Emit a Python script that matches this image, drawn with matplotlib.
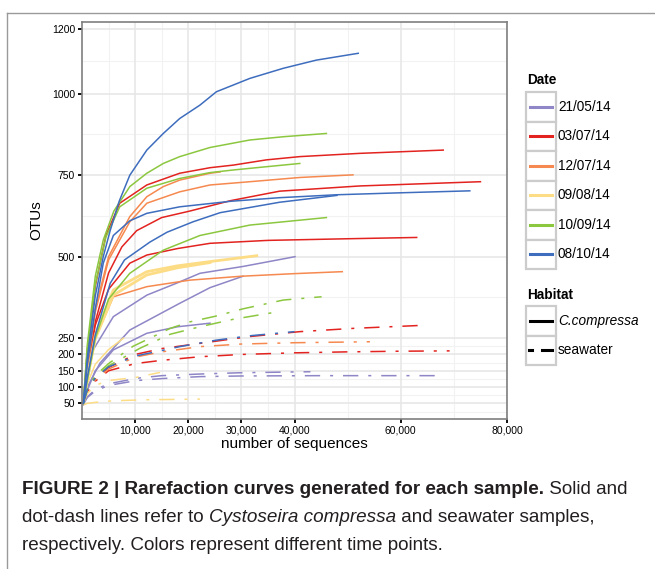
import matplotlib
matplotlib.use("Agg")
import matplotlib.pyplot as plt
from matplotlib.lines import Line2D
from matplotlib.patches import Rectangle

plt.rcParams["font.family"] = ["Liberation Sans", "DejaVu Sans"]

W, H = 655, 569

# legend entries
dates = ["21/05/14", "03/07/14", "12/07/14", "09/08/14", "10/09/14", "08/10/14"]
date_colors = ["#8E86C6", "#E2231F", "#F6894F", "#FDDC86", "#8CC740", "#3E6DBE"]
habitats = ["C.compressa", "seawater"]

# ---- C. compressa rarefaction curves (sequences, OTUs) ----
blue_a_x = [250, 1000, 2500, 4000, 5300, 7000, 9000, 12200, 15300, 18400, 22200, 25300, 31600, 37900, 44100, 52000]
blue_a_y = [50, 190, 380, 500, 580, 670, 750, 827, 878, 924, 965, 1006, 1047, 1078, 1103, 1124]
green_a_x = [250, 1000, 2500, 4000, 6000, 9000, 12200, 15300, 18400, 24100, 31600, 37900, 46000]
green_a_y = [50, 230, 440, 551, 640, 715, 756, 786, 807, 835, 858, 868, 878]
red_a_x = [250, 1000, 2500, 4500, 7100, 12200, 18400, 24100, 28500, 34700, 41000, 52300, 68000]
red_a_y = [50, 210, 410, 565, 664, 720, 756, 773, 781, 797, 807, 817, 827]
green_b_x = [250, 1000, 2500, 4500, 7100, 12200, 18400, 24100, 28500, 34700, 41000]
green_b_y = [50, 215, 415, 560, 653, 710, 740, 758, 766, 776, 786]
orange_a_x = [250, 1000, 2500, 5000, 9000, 12200, 15300, 18400, 24100, 26000]
orange_a_y = [50, 170, 340, 500, 623, 684, 715, 735, 756, 760]
orange_b_x = [250, 1000, 2500, 5000, 9000, 12200, 18400, 24100, 31600, 41000, 51000]
orange_b_y = [50, 160, 330, 490, 607, 664, 699, 720, 730, 743, 751]
red_b_x = [250, 1000, 2500, 5000, 7500, 10300, 15000, 20300, 28000, 37200, 52300, 75000]
red_b_y = [50, 150, 300, 450, 530, 580, 620, 640, 672, 701, 717, 730]
blue_b_x = [250, 1000, 2500, 4000, 5900, 9000, 12200, 18400, 28000, 37200, 48000, 60000, 73000]
blue_b_y = [50, 170, 340, 480, 565, 610, 633, 653, 670, 681, 690, 696, 702]
blue_c_x = [250, 1000, 2500, 5300, 8000, 12800, 16000, 20900, 26000, 37200, 48000]
blue_c_y = [50, 130, 260, 418, 490, 545, 575, 607, 635, 667, 688]
green_c_x = [250, 1000, 2500, 5000, 9000, 15300, 22200, 31600, 37900, 46000]
green_c_y = [50, 120, 250, 370, 449, 520, 565, 597, 607, 620]
red_c_x = [250, 1000, 2500, 5000, 9000, 12200, 18000, 24100, 35000, 50000, 63000]
red_c_y = [50, 150, 290, 400, 480, 505, 525, 541, 550, 555, 559]
yellow_a_x = [250, 1000, 2500, 5900, 12200, 18000, 24100, 32900]
yellow_a_y = [50, 130, 260, 398, 454, 472, 485, 503]
yellow_b_x = [250, 1000, 2500, 5900, 12200, 18000, 24100]
yellow_b_y = [50, 125, 248, 382, 444, 466, 482]
purple_a_x = [250, 1000, 2100, 5900, 12200, 18000, 22200, 30300, 40100]
purple_a_y = [48, 120, 214, 316, 382, 420, 449, 470, 500]
purple_b_x = [250, 1000, 3400, 9000, 18400, 24100, 30300]
purple_b_y = [48, 100, 174, 275, 357, 405, 440]
purple_c_x = [250, 1000, 2500, 5900, 12200, 18000, 24100]
purple_c_y = [45, 90, 150, 214, 265, 285, 296]
yellow_c_x = [250, 1000, 2500, 5000, 7800]
yellow_c_y = [48, 110, 170, 215, 250]
orange_c_x = [250, 1000, 2500, 5900, 12200, 20300, 30000, 40000, 49000]
orange_c_y = [48, 130, 250, 377, 408, 428, 440, 448, 454]

# ---- seawater rarefaction curves ----
sw_red_a_x = [250, 1000, 2500, 5000, 10000, 15000, 22200, 31600, 41000, 51000, 65000]
sw_red_a_y = [50, 90, 125, 160, 200, 218, 234, 255, 270, 280, 290]
sw_blue_x = [250, 1000, 2500, 5000, 10000, 15000, 18400, 25300, 32000, 40000]
sw_blue_y = [50, 92, 128, 162, 195, 212, 224, 244, 258, 270]
sw_orange_x = [250, 1000, 2500, 5000, 10000, 15000, 22200, 30000, 40000, 54200]
sw_orange_y = [50, 90, 122, 155, 192, 208, 224, 232, 236, 239]
sw_red_b_x = [250, 1000, 2500, 5000, 10000, 15000, 22200, 30000, 40000, 50000, 60000, 69200]
sw_red_b_y = [50, 85, 118, 150, 172, 182, 193, 200, 205, 208, 210, 211]
sw_green_a_x = [250, 1000, 2500, 5000, 9600, 12800, 16600, 20300, 25300, 30300, 37900, 45100]
sw_green_a_y = [50, 95, 135, 172, 225, 250, 280, 300, 318, 340, 367, 377]
sw_green_b_x = [250, 1000, 2500, 5000, 10900, 16600, 22200, 28500, 36900]
sw_green_b_y = [50, 92, 130, 165, 219, 262, 285, 308, 331]
sw_purple_a_x = [250, 1000, 2500, 5000, 10300, 15000, 22200, 30000, 43000]
sw_purple_a_y = [48, 70, 92, 110, 127, 135, 140, 144, 147]
sw_purple_b_x = [250, 1000, 2500, 5000, 10300, 15000, 22200, 30000, 45000, 67500]
sw_purple_b_y = [48, 68, 88, 105, 120, 126, 132, 134, 135, 135]
sw_yellow_a_x = [250, 1000, 2500, 5900, 12000, 22200]
sw_yellow_a_y = [45, 50, 53, 58, 61, 63]
sw_yellow_b_x = [250, 1000, 2500, 5000, 10300, 14700]
sw_yellow_b_y = [50, 80, 105, 120, 130, 145]

curves = [
    ("21/05/14", "C.compressa", purple_a_x, purple_a_y),
    ("21/05/14", "C.compressa", purple_b_x, purple_b_y),
    ("21/05/14", "C.compressa", purple_c_x, purple_c_y),
    ("21/05/14", "seawater", sw_purple_a_x, sw_purple_a_y),
    ("21/05/14", "seawater", sw_purple_b_x, sw_purple_b_y),
    ("03/07/14", "C.compressa", red_a_x, red_a_y),
    ("03/07/14", "C.compressa", red_b_x, red_b_y),
    ("03/07/14", "C.compressa", red_c_x, red_c_y),
    ("03/07/14", "seawater", sw_red_a_x, sw_red_a_y),
    ("03/07/14", "seawater", sw_red_b_x, sw_red_b_y),
    ("12/07/14", "C.compressa", orange_a_x, orange_a_y),
    ("12/07/14", "C.compressa", orange_b_x, orange_b_y),
    ("12/07/14", "C.compressa", orange_c_x, orange_c_y),
    ("12/07/14", "seawater", sw_orange_x, sw_orange_y),
    ("09/08/14", "C.compressa", yellow_a_x, yellow_a_y),
    ("09/08/14", "C.compressa", yellow_b_x, yellow_b_y),
    ("09/08/14", "C.compressa", yellow_c_x, yellow_c_y),
    ("09/08/14", "seawater", sw_yellow_a_x, sw_yellow_a_y),
    ("09/08/14", "seawater", sw_yellow_b_x, sw_yellow_b_y),
    ("10/09/14", "C.compressa", green_a_x, green_a_y),
    ("10/09/14", "C.compressa", green_b_x, green_b_y),
    ("10/09/14", "C.compressa", green_c_x, green_c_y),
    ("10/09/14", "seawater", sw_green_a_x, sw_green_a_y),
    ("10/09/14", "seawater", sw_green_b_x, sw_green_b_y),
    ("08/10/14", "C.compressa", blue_a_x, blue_a_y),
    ("08/10/14", "C.compressa", blue_b_x, blue_b_y),
    ("08/10/14", "C.compressa", blue_c_x, blue_c_y),
    ("08/10/14", "seawater", sw_blue_x, sw_blue_y),
]

x_ticks = [10000, 20000, 30000, 40000, 60000, 80000]
x_minor = [5000, 15000, 25000, 35000, 50000, 70000]
y_ticks = [50, 100, 150, 200, 250, 500, 750, 1000, 1200]
y_minor = [25, 75, 125, 175, 225, 375, 625, 875, 1100]

dotdash = (0, (10, 6.5, 2, 6.5))
styles = {"C.compressa": "-", "seawater": dotdash}


def fx(x):
    return x / W


def fy(y):
    return 1 - y / H


fig = plt.figure(figsize=(W / 100, H / 100), dpi=100)
ax = fig.add_axes([fx(82), fy(419), (507 - 82) / W, (419 - 22) / H])

# grid like theme_bw
for v in x_minor:
    ax.axvline(v, color="#f2f2f2", lw=0.8, zorder=0)
for v in y_minor:
    ax.axhline(v, color="#f2f2f2", lw=0.8, zorder=0)
for v in x_ticks:
    ax.axvline(v, color="#e6e6e6", lw=1.1, zorder=0)
for v in y_ticks:
    ax.axhline(v, color="#e6e6e6", lw=1.1, zorder=0)

for date, hab, xs, ys in curves:
    c = date_colors[dates.index(date)]
    # the 09/08/14 host curves overlap into a thick band
    lw = 2.0 if (date == "09/08/14" and hab == "C.compressa" and len(xs) > 5) else 1.1
    ax.plot(xs, ys, color=c, lw=lw, linestyle=styles[hab], zorder=2)

ax.set_xlim(0, 80000)
ax.set_ylim(2, 1220)
ax.set_xticks(x_ticks)
ax.set_xticklabels([f"{v:,}" for v in x_ticks])
ax.set_yticks(y_ticks)
ax.tick_params(direction="out", length=3, width=1.3, color="black", labelsize=7.5, pad=2)
for s in ax.spines.values():
    s.set_color("#7f7f7f")
    s.set_linewidth(1.2)
ax.set_xlabel("number of sequences", fontsize=11, labelpad=1)
ax.set_ylabel("OTUs", fontsize=11, labelpad=6)

# outer frame of the figure panel
fig.add_artist(Line2D([fx(7), fx(7)], [fy(13), 0], color="#9a9a9a", lw=1, transform=fig.transFigure))
fig.add_artist(Line2D([fx(7), 1], [fy(13), fy(13)], color="#9a9a9a", lw=1, transform=fig.transFigure))

# legends drawn in ggplot fashion
key_x0, key_x1 = 526, 556
leg_size = 9.8
fig.text(fx(527), fy(80), "Date", fontsize=leg_size, fontweight="bold", va="center")
cell = 29.5
top = 92
for i, (d, c) in enumerate(zip(dates, date_colors)):
    y0 = top + i * cell
    fig.add_artist(Rectangle((fx(key_x0), fy(y0 + cell)), (key_x1 - key_x0) / W, cell / H,
                             transform=fig.transFigure, facecolor="white",
                             edgecolor="#cccccc", lw=1.6))
    yc = y0 + cell / 2
    fig.add_artist(Line2D([fx(530), fx(552)], [fy(yc), fy(yc)], color=c, lw=2.2,
                          transform=fig.transFigure))
    fig.text(fx(558), fy(yc), d, fontsize=leg_size, va="center")

fig.text(fx(527), fy(295), "Habitat", fontsize=leg_size, fontweight="bold", va="center")
htop = 306
for i, h in enumerate(habitats):
    y0 = htop + i * cell
    fig.add_artist(Rectangle((fx(key_x0), fy(y0 + cell)), (key_x1 - key_x0) / W, cell / H,
                             transform=fig.transFigure, facecolor="white",
                             edgecolor="#cccccc", lw=1.6))
    yc = y0 + cell / 2
    if h == "seawater":
        fig.add_artist(Line2D([fx(529), fx(532)], [fy(yc), fy(yc)], color="black", lw=2.2,
                              transform=fig.transFigure))
        fig.add_artist(Line2D([fx(542), fx(552)], [fy(yc), fy(yc)], color="black", lw=2.2,
                              transform=fig.transFigure))
        fig.text(fx(558), fy(yc), h, fontsize=leg_size, va="center")
    else:
        fig.add_artist(Line2D([fx(530), fx(552)], [fy(yc), fy(yc)], color="black", lw=2.2,
                              transform=fig.transFigure))
        fig.text(fx(558), fy(yc), h, fontsize=leg_size, va="center", style="italic")

# caption with mixed bold / italic runs
renderer = fig.canvas.get_renderer()
cap_color = "#231f20"
cap_size = 13.6
lines = [
    [("FIGURE 2 | Rarefaction curves generated for each sample.", "bold", "normal"),
     (" Solid and", "normal", "normal")],
    [("dot-dash lines refer to ", "normal", "normal"),
     ("Cystoseira compressa", "normal", "italic"),
     (" and seawater samples,", "normal", "normal")],
    [("respectively. Colors represent different time points.", "normal", "normal")],
]
for k, parts in enumerate(lines):
    xpos = 22
    ypos = 490 + k * 28
    for txt, wt, st in parts:
        t = fig.text(fx(xpos), fy(ypos), txt, fontsize=cap_size, fontweight=wt, style=st,
                     color=cap_color, va="center")
        xpos += t.get_window_extent(renderer).width

fig.savefig("out.png", dpi=100)
